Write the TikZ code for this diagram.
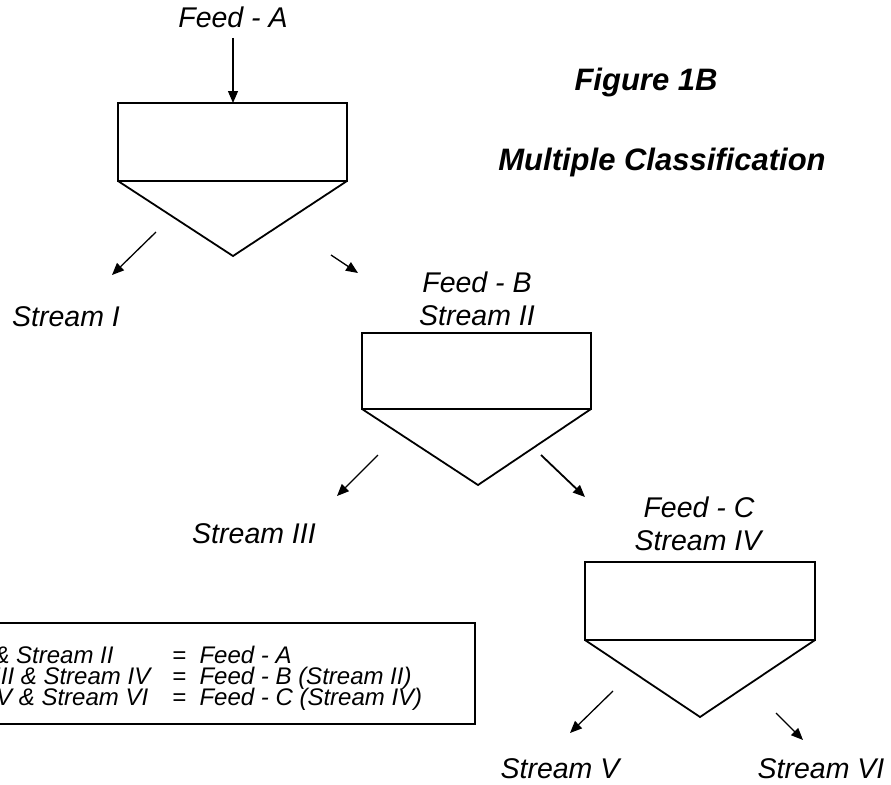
\documentclass[tikz,border=0pt]{standalone}
\usepackage{fontspec}
\setmainfont{Liberation Sans}
\usetikzlibrary{arrows.meta}
\begin{document}
\begin{tikzpicture}[x=1pt,y=-1pt,
  lbl/.style={font=\fontsize{28.5}{30}\selectfont\itshape, inner sep=0pt, anchor=base},
  ttl/.style={font=\fontsize{31}{34}\selectfont\bfseries\itshape, inner sep=0pt, anchor=base},
  leg/.style={font=\fontsize{24}{21}\selectfont\itshape, inner sep=0pt, anchor=base west,
              text height=15pt, text depth=3pt},
  vessel/.style={line width=1.8pt, line join=miter},
  flow/.style={line width=1.3pt, -{Triangle[length=12pt,width=10pt]}}]
\useasboundingbox (0,0) rectangle (891,784);
\fill[white] (0,0) rectangle (891,784);
\begin{scope}
\clip (0,0) rectangle (891,784);
% hopper 1
\draw[vessel] (118,103) rectangle (347,181);
\draw[vessel] (118,181) -- (233,256) -- (347,181);
% hopper 2
\draw[vessel] (362,333) rectangle (591,409);
\draw[vessel] (362,409) -- (478,485) -- (591,409);
% hopper 3
\draw[vessel] (585,562) rectangle (815,640);
\draw[vessel] (585,640) -- (700,717) -- (815,640);

% texts
\node[lbl] (feedA) at (233,28) {Feed - A};
\node[lbl] (s1) at (66,326) {Stream I};
\node[lbl] (feedB) at (477,292) {Feed - B};
\node[lbl] (s2) at (477,325) {Stream II};
\node[lbl] (s3) at (254,543) {Stream III};
\node[lbl] (feedC) at (699,517) {Feed - C};
\node[lbl] (s4) at (698,550) {Stream IV};
\node[lbl] (s5) at (560,778) {Stream V};
\node[lbl] (s6) at (821,778) {Stream VI};
\node[ttl] (fig) at (646,90) {Figure 1B};
\node[ttl] (mc) at (662,170) {Multiple Classification};

% arrows
\coordinate (a0) at (233,38);
\coordinate (a1) at (233,103);
\coordinate (b0) at (156,232);
\coordinate (b1) at (112,275);
\coordinate (c0) at (331,255);
\coordinate (c1) at (358,273);
\coordinate (d0) at (378,455);
\coordinate (d1) at (337,496);
\coordinate (e0) at (541,455);
\coordinate (e1) at (585,497);
\coordinate (f0) at (613,691);
\coordinate (f1) at (570,733);
\coordinate (g0) at (776,713);
\coordinate (g1) at (803,740);
\draw[flow] (a0) -- (a1);
\draw[flow] (b0) -- (b1);
\draw[flow] (c0) -- (c1);
\draw[flow] (d0) -- (d1);
\draw[flow, line width=1.8pt] (e0) -- (e1);
\draw[flow] (f0) -- (f1);
\draw[flow] (g0) -- (g1);

% legend
\draw[line width=1.5pt] (-20,623) rectangle (475,724);
\node[leg] (l1a) at (-104,663) {Stream I \& Stream II};
\node[leg] (l1b) at (172,663) {=\ \ Feed - A};
\node[leg] (l2a) at (-90,684) {Stream III \& Stream IV};
\node[leg] (l2b) at (172,684) {=\ \ Feed - B (Stream II)};
\node[leg] (l3a) at (-88,705) {Stream V \& Stream VI};
\node[leg] (l3b) at (172,705) {=\ \ Feed - C (Stream IV)};
\end{scope}
\end{tikzpicture}
\end{document}
